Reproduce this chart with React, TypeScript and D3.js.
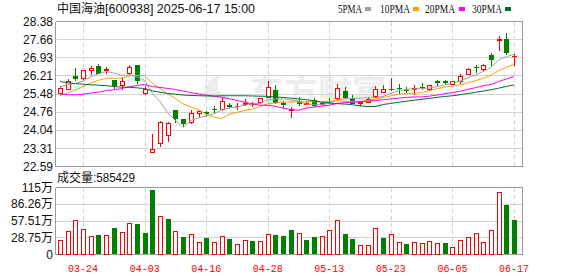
import React from "react";
import * as d3 from "d3";

const title = "中国海油";
const titleCode = "[600938] 2025-06-17 15:00";
const volTitle = "成交量:585429";

const dates = [
  "03-19","03-20","03-21","03-24","03-25","03-26","03-27","03-28","03-31","04-01",
  "04-02","04-03","04-07","04-08","04-09","04-10","04-11","04-14","04-15","04-16",
  "04-17","04-18","04-21","04-22","04-23","04-24","04-25","04-28","04-29","04-30",
  "05-06","05-07","05-08","05-09","05-12","05-13","05-14","05-15","05-16","05-19",
  "05-20","05-21","05-22","05-23","05-26","05-27","05-28","05-29","05-30","06-03",
  "06-04","06-05","06-06","06-09","06-10","06-11","06-12","06-13","06-16","06-17",
];

const opens = [
  25.53,25.70,26.20,26.13,26.46,26.59,26.45,26.03,25.86,26.32,
  26.63,25.54,23.17,23.52,23.85,24.84,24.48,24.35,24.73,24.77,
  24.90,24.88,25.04,24.99,25.10,25.07,25.15,25.37,25.64,25.12,
  24.86,25.22,25.10,25.24,25.10,25.22,25.31,25.60,25.31,25.12,
  25.18,25.40,25.57,25.68,25.73,25.65,25.69,25.78,25.70,25.99,
  25.99,25.90,25.99,26.30,26.58,26.50,27.03,27.65,27.69,26.99,
];
const highs = [
  25.82,26.10,26.54,26.46,26.59,26.67,26.56,26.05,26.17,26.63,
  26.66,25.81,23.87,24.40,24.35,24.86,24.49,24.84,24.85,24.82,
  25.01,25.31,25.13,25.11,25.27,25.17,25.31,26.01,25.83,25.21,
  24.97,25.35,25.21,25.31,25.17,25.33,25.87,25.77,25.44,25.19,
  25.35,25.80,25.84,26.13,25.90,25.77,25.83,25.94,25.86,26.06,
  26.05,26.01,26.30,26.51,26.66,26.67,27.14,27.82,27.93,27.10,
];
const lows = [
  25.51,25.67,26.06,26.10,26.30,26.33,26.34,25.74,25.70,26.30,
  25.94,25.50,23.16,23.41,23.61,24.35,24.20,24.31,24.62,24.62,
  24.75,24.86,24.95,24.87,25.04,25.00,25.13,25.35,25.13,24.97,
  24.57,25.04,25.07,25.00,25.05,25.13,25.27,25.31,25.13,25.05,
  25.15,25.37,25.56,25.66,25.54,25.57,25.50,25.68,25.64,25.86,
  25.90,25.88,25.94,26.29,26.37,26.46,26.66,27.23,27.10,26.66,
];
const closes = [
  25.74,26.01,26.13,26.43,26.54,26.34,26.47,25.83,25.99,26.56,
  26.03,25.70,23.28,24.35,24.31,24.51,24.31,24.71,24.81,24.74,
  24.87,25.20,25.00,25.02,25.12,25.09,25.31,25.77,25.17,25.10,
  24.88,25.13,25.12,25.04,25.12,25.20,25.74,25.37,25.14,25.15,
  25.28,25.70,25.68,25.70,25.71,25.63,25.71,25.76,25.83,25.98,
  25.97,25.99,26.21,26.50,26.55,26.63,26.87,27.67,27.16,27.01,
];
// volume in 万 (10k) units
const volumesWan = [
  24.7,40.0,58.8,43.4,31.5,33.2,33.2,45.7,37.8,54.8,
  53.1,36.1,110.0,66.1,60.5,40.0,29.3,34.4,20.8,27.6,
  20.8,32.0,26.4,17.4,24.2,23.0,23.0,34.4,33.2,31.5,
  41.7,36.1,24.7,29.8,32.0,41.7,60.0,34.4,26.4,16.2,
  16.2,46.3,27.6,34.4,20.8,17.4,20.8,19.1,23.0,19.1,
  19.1,12.2,24.7,29.3,36.1,20.8,41.7,108.0,85.5,58.5429,
];
// closes of the 29 sessions before the first visible candle (estimated from MA lines)
const priorCloses = [
  27.30,27.25,27.10,27.15,27.00,26.95,26.85,26.80,26.70,26.70,
  26.50,26.20,25.90,25.70,25.50,25.30,25.20,25.10,25.00,25.00,
  24.90,24.95,25.05,25.15,25.30,25.60,25.85,25.98,25.68,
];

const maPeriods = [5, 10, 20, 30];
const maLabels = ["5PMA", "10PMA", "20PMA", "30PMA"];
const priceTickLabels = ["22.59","23.31","24.04","24.76","25.48","26.21","26.93","27.66","28.38"];
const volTickLabels = ["0","28.75万","57.51万","86.26万","115万"];
const xTickLabels = ["03-24","04-03","04-16","04-28","05-13","05-23","06-05","06-17"];

const priceMin = 22.59, priceMax = 28.38;
const volMax = 1150260;

const RED = "#ff0000";
const GREEN = "#008000";
const MA_COLORS = ["#a0a0a0", "#f5a200", "#ff00ff", "#006f32"];
const GRID = "#d3d3d3";
const BORDER = "#9a9a9a";

export default function App() {
  const W = 578, H = 276;
  const L = 55.5, R = 522.5;
  const pTop = 21.5, pBot = 166.5;
  const vTop = 187.5, vBot = 254.5;

  const x = d3.scalePoint<string>().domain(dates).range([60, 514]);
  const y = d3.scaleLinear().domain([priceMin, priceMax]).range([pBot, pTop]);
  const yv = d3.scaleLinear().domain([0, volMax]).range([vBot, vTop]);

  const all = [...priorCloses, ...closes];
  const off = priorCloses.length;
  const maSeries = maPeriods.map((n) =>
    closes.map((_, i) => d3.mean(all.slice(off + i - n + 1, off + i + 1)) as number)
  );

  const line = d3
    .line<number>()
    .x((_, i) => x(dates[i]) as number)
    .y((v) => y(v));

  const priceTicks = priceTickLabels.map((_, k) => priceMin + (k * (priceMax - priceMin)) / 8);
  const volTicks = volTickLabels.map((_, k) => (k * volMax) / 4);
  const snap = (v: number) => Math.round(v - 0.5) + 0.5;

  const legendTextX = [338, 380, 425, 472];
  const legendSwX = [365, 413, 459, 505];

  return (
    <svg
      width={W}
      height={H}
      style={{ position: "absolute", left: 0, top: 0, background: "#fff" }}
      shapeRendering="crispEdges"
    >
      <rect x={0} y={0} width={W} height={H} fill="#fff" />
      {/* watermark */}
      <text
        x={250}
        y={104}
        fontFamily="Noto Sans CJK SC"
        fontWeight="bold"
        fontSize={34}
        fill="#ededed"
        shapeRendering="auto"
      >
        东方财富
      </text>
      <path d="M205,100 Q200,80 222,74 Q210,88 230,100 Z" fill="#ededed" shapeRendering="auto" />

      {/* price grid */}
      {priceTicks.map((t, k) => (
        <line key={"pg" + k} x1={L} x2={R} y1={snap(y(t))} y2={snap(y(t))}
          stroke={k === 0 || k === 8 ? BORDER : GRID} />
      ))}
      {/* volume grid */}
      {volTicks.map((t, k) => (
        <line key={"vg" + k} x1={L} x2={R} y1={snap(yv(t))} y2={snap(yv(t))}
          stroke={k === 0 || k === 4 ? BORDER : GRID} />
      ))}
      {/* vertical dashed grid */}
      {xTickLabels.map((d) => {
        const xx = Math.round(x(d) as number) + 0.5;
        return (
          <g key={"vx" + d}>
            <line x1={xx} x2={xx} y1={pTop} y2={pBot} stroke={GRID} strokeDasharray="4,3" />
            <line x1={xx} x2={xx} y1={vTop} y2={vBot} stroke={GRID} strokeDasharray="4,3" />
          </g>
        );
      })}
      {/* borders */}
      <line x1={L} x2={L} y1={pTop} y2={pBot} stroke={BORDER} />
      <line x1={R} x2={R} y1={pTop} y2={pBot} stroke={BORDER} />
      <line x1={L} x2={L} y1={vTop} y2={vBot} stroke={BORDER} />
      <line x1={R} x2={R} y1={vTop} y2={vBot} stroke={BORDER} />

      {/* candles */}
      {dates.map((d, i) => {
        const cx = Math.round(x(d) as number);
        const o = opens[i], c = closes[i];
        const up = c >= o;
        const col = up ? RED : GREEN;
        const t = Math.round(y(Math.max(o, c)));
        const b = Math.round(y(Math.min(o, c)));
        const h = b - t;
        return (
          <g key={"c" + i}>
            <line x1={cx + 0.5} x2={cx + 0.5} y1={Math.round(y(highs[i]))} y2={Math.round(y(lows[i])) + 1} stroke={col} />
            {h < 1 ? (
              <line x1={cx - 2} x2={cx + 3} y1={t + 0.5} y2={t + 0.5} stroke={col} />
            ) : up ? (
              <rect x={cx - 1.5} y={t + 0.5} width={4} height={h} fill="#fff" stroke={col} />
            ) : (
              <rect x={cx - 2} y={t} width={5} height={h + 1} fill={col} />
            )}
          </g>
        );
      })}

      {/* moving averages */}
      {maSeries.map((s, k) => (
        <path key={"ma" + k} d={line(s) as string} fill="none" stroke={MA_COLORS[k]} strokeWidth={1} shapeRendering="auto" />
      ))}

      {/* volume bars */}
      {dates.map((d, i) => {
        const cx = Math.round(x(d) as number);
        const prev = i === 0 ? priorCloses[priorCloses.length - 1] : closes[i - 1];
        const up = closes[i] >= prev;
        const t = Math.round(yv(volumesWan[i] * 10000));
        const h = Math.round(vBot - 0.5) - t;
        return up ? (
          <rect key={"v" + i} x={cx - 1.5} y={t + 0.5} width={4} height={h} fill="#fff" stroke={RED} />
        ) : (
          <rect key={"v" + i} x={cx - 2} y={t} width={5} height={h} fill={GREEN} />
        );
      })}

      {/* axis labels */}
      {priceTicks.map((t, k) => (
        <text key={"pl" + k} x={53} y={y(t)} dy="0.35em" textAnchor="end"
          fontFamily="Liberation Sans, Arial" fontSize={12} fill="#111">
          {priceTickLabels[k]}
        </text>
      ))}
      {volTicks.map((t, k) => (
        <text key={"vl" + k} x={53} y={yv(t)} dy="0.35em" textAnchor="end"
          fontFamily="Liberation Sans, Noto Sans CJK SC" fontSize={12} fill="#111">
          {volTickLabels[k]}
        </text>
      ))}
      {xTickLabels.map((d) => (
        <text key={"xl" + d} x={x(d) as number} y={272} textAnchor="middle"
          fontFamily="Liberation Mono, DejaVu Sans Mono" fontSize={11} textLength={30}
          lengthAdjust="spacingAndGlyphs" fill={RED}>
          {d}
        </text>
      ))}

      {/* title */}
      <text x={57} y={12.5} fontSize={12} fill="#111">
        <tspan fontFamily="Noto Sans CJK SC">{title}</tspan>
        <tspan fontFamily="Liberation Sans" fontSize={12} textLength={150} lengthAdjust="spacingAndGlyphs">{titleCode}</tspan>
      </text>
      {/* legend */}
      {maLabels.map((lab, k) => (
        <g key={"lg" + k}>
          <text x={legendTextX[k]} y={12.5} fontFamily="Liberation Serif" fontSize={12}
            textLength={lab.length * 6} lengthAdjust="spacingAndGlyphs" fill="#111">
            {lab}
          </text>
          <rect x={legendSwX[k]} y={7} width={6} height={4} fill={MA_COLORS[k]} />
        </g>
      ))}
      {/* volume title */}
      <text x={57} y={182} fontSize={12} fill="#111">
        <tspan fontFamily="Noto Sans CJK SC">成交量</tspan>
        <tspan fontFamily="Liberation Sans" fontSize={12} textLength={42} lengthAdjust="spacingAndGlyphs">{volTitle.slice(3)}</tspan>
      </text>
    </svg>
  );
}
